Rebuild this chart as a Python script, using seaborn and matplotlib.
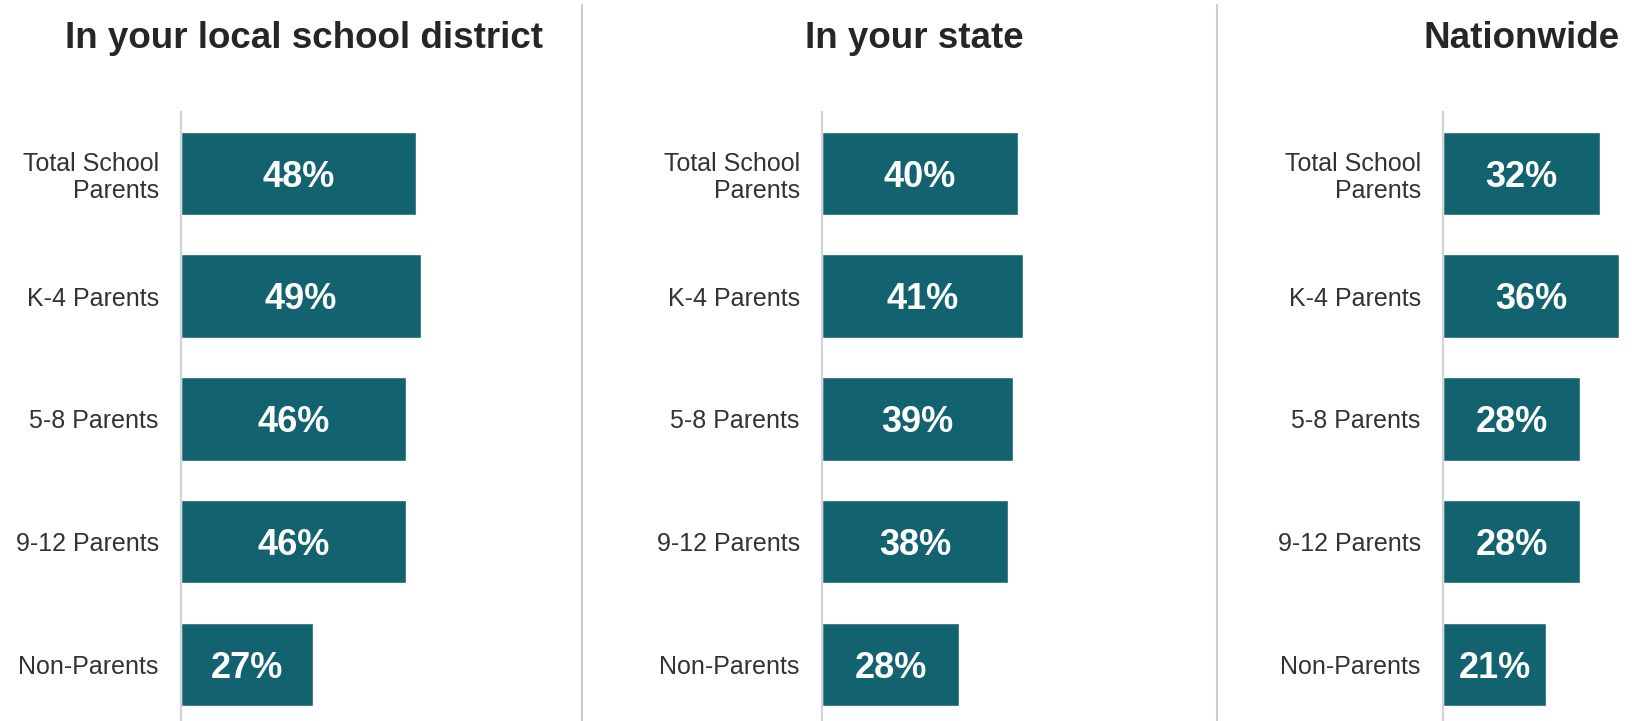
import pandas as pd
import matplotlib.pyplot as plt
import seaborn as sns
from matplotlib.lines import Line2D

# Data
groups = ["Total School\nParents", "K-4 Parents", "5-8 Parents", "9-12 Parents", "Non-Parents"]
local_district = [48, 49, 46, 46, 27]
your_state = [40, 41, 39, 38, 28]
nationwide = [32, 36, 28, 28, 21]
titles = ["In your local school district", "In your state", "Nationwide"]

sns.set_theme(style="white")
plt.rcParams['font.family'] = ['Liberation Sans', 'DejaVu Sans']

W, H = 1633, 721
fig = plt.figure(figsize=(W / 100, H / 100), dpi=100)

bar_color = "#12636f"
px_per_pct = 4.9
ax_left = [181, 822, 1443]
ax_xmax = [52, 52, 38]
title_x = [304, 914, 1522]
ax_top, ax_bottom = 112, 0

for i, vals in enumerate([local_district, your_state, nationwide]):
    df = pd.DataFrame({"group": groups, "pct": vals})
    width_px = ax_xmax[i] * px_per_pct
    ax = fig.add_axes([ax_left[i] / W, ax_bottom / H, width_px / W, (H - ax_top - ax_bottom) / H])
    sns.barplot(data=df, y="group", x="pct", orient="h", color=bar_color,
                width=0.68, saturation=1, ax=ax)
    ax.set_xlim(0, ax_xmax[i])
    ax.set_ylim(4.46, -0.5)
    ax.set_xlabel("")
    ax.set_ylabel("")
    ax.set_xticks([])
    for s in ["top", "right", "bottom"]:
        ax.spines[s].set_visible(False)
    ax.spines["left"].set_color("#d4d4d4")
    ax.spines["left"].set_linewidth(1.6)
    ax.tick_params(axis="y", length=0, pad=16, labelsize=18, labelcolor="#333333")
    for lbl in ax.get_yticklabels():
        lbl.set_horizontalalignment("right")
        lbl.set_multialignment("right")
        lbl.set_linespacing(1.15)
    for j, v in enumerate(vals):
        ax.text(v / 2, j + 0.03, f"{v}%", ha="center", va="center", color="white",
                fontsize=26, fontweight="bold")
    fig.text(title_x[i] / W, 1 - 39 / H, titles[i], ha="center", va="center",
             fontsize=26.5, fontweight="bold", color="#262626")

# panel separators
for x in [582, 1217]:
    fig.add_artist(Line2D([x / W, x / W], [0, 1 - 5 / H], color="#cccccc", linewidth=1.5))

plt.savefig("out.png", dpi=100)
